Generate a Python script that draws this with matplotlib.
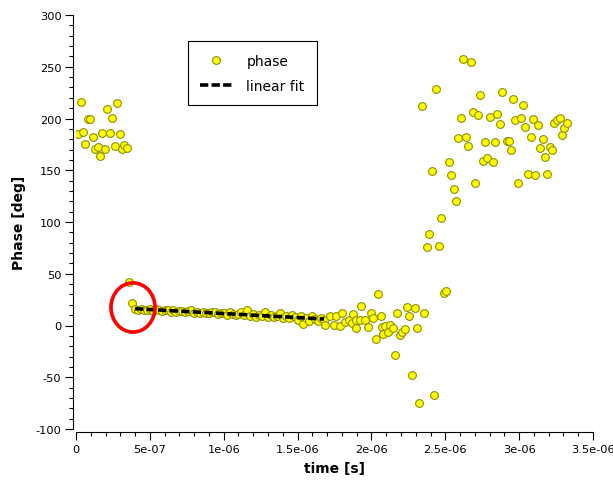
import numpy as np
import matplotlib
matplotlib.use("Agg")
import matplotlib.pyplot as plt
from matplotlib.ticker import MultipleLocator, FuncFormatter
from matplotlib.patches import Ellipse

# phase readings, time in microseconds
# left cluster (before the step)
t_left = [0.012, 0.032, 0.047, 0.063, 0.083, 0.097, 0.115, 0.129, 0.147, 0.162,
          0.176, 0.196, 0.210, 0.228, 0.246, 0.264, 0.276, 0.298, 0.313, 0.327,
          0.345, 0.359, 0.377]
ph_left = [185.2, 216.2, 187.1, 175.5, 199.3, 199.3, 181.9, 170.9, 172.2, 164.2,
           185.8, 170.9, 208.7, 185.8, 200.7, 173.8, 215.2, 185.2, 170.7, 174.8,
           171.6, 42.1, 21.8]

# flat section used for the fit
t_flat = [0.40, 0.42, 0.44, 0.46, 0.48, 0.50, 0.52, 0.54, 0.56, 0.58,
          0.60, 0.62, 0.64, 0.66, 0.68, 0.70, 0.72, 0.74, 0.76, 0.78,
          0.80, 0.82, 0.84, 0.86, 0.88, 0.90, 0.92, 0.94, 0.96, 0.98,
          1.00, 1.02, 1.04, 1.06, 1.08, 1.10, 1.12, 1.14, 1.16, 1.18,
          1.20, 1.22, 1.24, 1.26, 1.28, 1.30, 1.32, 1.34, 1.36, 1.38,
          1.40, 1.42, 1.44, 1.46, 1.48, 1.50, 1.52, 1.54, 1.56, 1.58,
          1.60, 1.62, 1.64, 1.66, 1.68]
ph_flat = [16.0, 14.8, 15.9, 15.0, 14.6, 15.8, 14.3, 15.6, 14.9, 13.8,
           15.2, 14.9, 13.4, 14.6, 13.2, 14.3, 13.9, 12.6, 13.8, 14.6,
           12.4, 13.2, 11.9, 13.5, 12.1, 11.6, 13.0, 12.7, 10.9, 12.3,
           11.8, 10.4, 12.6, 11.0, 9.8, 11.5, 13.4, 10.2, 15.0, 9.4,
           11.2, 8.6, 10.5, 9.1, 12.8, 8.2, 10.3, 7.9, 9.6, 12.1,
           7.4, 9.2, 6.8, 10.6, 7.9, 5.2, 8.8, 1.5, 7.0, 4.6,
           9.3, 5.8, 3.9, 7.2, 5.0]

# noisy section after the flat part
t_noisy = [1.686, 1.720, 1.747, 1.760, 1.787, 1.799, 1.821, 1.850, 1.867, 1.877,
           1.896, 1.896, 1.923, 1.928, 1.957, 1.979, 1.995, 2.013, 2.031, 2.047,
           2.063, 2.074, 2.081, 2.092, 2.114, 2.126, 2.144, 2.160, 2.175, 2.194,
           2.205, 2.228, 2.243, 2.257, 2.275, 2.293, 2.307, 2.324, 2.358, 2.422]
ph_noisy = [0.5, 9.5, 0.5, 9.2, -0.5, 12.4, 3.1, 5.3, 2.1, 10.8,
            5.3, -2.7, 5.3, 19.2, 5.3, -1.2, 12.4, 7.0, -13.1, 30.2,
            9.2, -1.2, -7.9, -0.2, -6.6, 0.5, -2.7, -28.6, 11.8, -9.2,
            -6.0, -3.7, 18.2, 9.2, -48.2, 16.7, -2.7, -75.1, 12.4, -67.6]

# rise and upper cluster
t_right = [2.374, 2.390, 2.456, 2.473, 2.490, 2.507, 2.523, 2.539, 2.557, 2.573,
           2.408, 2.341, 2.439, 2.588, 2.605, 2.622, 2.640, 2.656, 2.672, 2.686,
           2.700, 2.720, 2.737, 2.754, 2.771, 2.785, 2.803, 2.821, 2.837, 2.852,
           2.869, 2.886, 2.916, 2.930, 2.947, 2.961, 2.974, 2.995, 3.011, 3.026,
           3.042, 3.058, 3.079, 3.092, 3.108, 3.126, 3.142, 3.160, 3.175, 3.191,
           3.207, 3.225, 3.238, 3.255, 3.277, 3.290, 3.306, 3.326]
ph_right = [75.4, 88.0, 77.0, 103.8, 31.2, 33.7, 157.7, 145.5, 131.9, 120.6,
            149.0, 211.6, 228.8, 180.9, 200.7, 257.1, 182.3, 173.9, 254.5, 205.8,
            137.7, 202.9, 222.6, 158.7, 177.4, 161.5, 201.6, 157.7, 177.4, 204.6,
            194.5, 225.2, 178.7, 178.7, 170.0, 218.7, 198.4, 138.0, 200.7, 212.9,
            192.0, 146.7, 182.3, 199.7, 145.5, 194.2, 171.2, 180.0, 162.5, 146.7,
            172.9, 170.0, 195.8, 198.1, 200.7, 184.5, 191.0, 195.8]

# annotation circle around the start of the fit (time in us, phase in deg)
circle_center = (0.386, 17.4)
circle_size = (0.298, 47.5)

t_us = np.array(t_left + t_flat + t_noisy + t_right)
phase = np.array(ph_left + ph_flat + ph_noisy + ph_right)
t_s = t_us * 1e-6

# linear fit over the flat section
tf = np.array(t_flat) * 1e-6
coef = np.polyfit(tf, np.array(ph_flat), 1)
t_fit = np.array([tf.min(), tf.max()])
ph_fit = np.polyval(coef, t_fit)

fig = plt.figure(figsize=(6.13, 4.89), dpi=100)
ax = fig.add_axes([76 / 613, 59 / 489, 517 / 613, 414 / 489])

ax.plot(t_s, phase, linestyle='none', marker='o', ms=5.6, mfc='#ffff00',
        mec='#8f8f00', mew=0.8, label='phase', zorder=2)
ax.plot(t_fit, ph_fit, color='black', lw=2.6, dashes=(2.3, 0.9),
        label='linear fit', zorder=3)

ell = Ellipse((circle_center[0] * 1e-6, circle_center[1]),
              circle_size[0] * 1e-6, circle_size[1],
              fill=False, ec='red', lw=2.6, zorder=4)
ax.add_patch(ell)

ax.set_xlim(0, 3.5e-6)
ax.set_ylim(-100, 300)
for s in ['top', 'right']:
    ax.spines[s].set_visible(False)
for s in ['left', 'bottom']:
    ax.spines[s].set_position(('outward', 2.5))
    ax.spines[s].set_linewidth(0.8)

ax.xaxis.set_major_locator(MultipleLocator(5e-7))
ax.xaxis.set_minor_locator(MultipleLocator(1e-7))
ax.yaxis.set_major_locator(MultipleLocator(50))
ax.yaxis.set_minor_locator(MultipleLocator(10))
ax.xaxis.set_major_formatter(FuncFormatter(lambda v, p: f"{v:g}"))
ax.yaxis.set_major_formatter(FuncFormatter(lambda v, p: f"{v:g}"))
ax.tick_params(which='major', direction='out', length=6, width=0.8,
               labelsize=8.2, pad=2)
ax.tick_params(which='minor', direction='out', length=3, width=0.8)

ax.set_xlabel('time [s]', fontweight='bold', fontsize=10, labelpad=5)
ax.set_ylabel('Phase [deg]', fontweight='bold', fontsize=10, labelpad=7)

leg = ax.legend(loc='upper left', bbox_to_anchor=(0.2166, 0.937),
                borderaxespad=0, fancybox=False, framealpha=1,
                edgecolor='black', fontsize=10, handlelength=2.3,
                labelspacing=0.8, borderpad=0.9, handletextpad=1.0)
leg.get_frame().set_linewidth(0.8)

fig.savefig('out.png', dpi=100)
